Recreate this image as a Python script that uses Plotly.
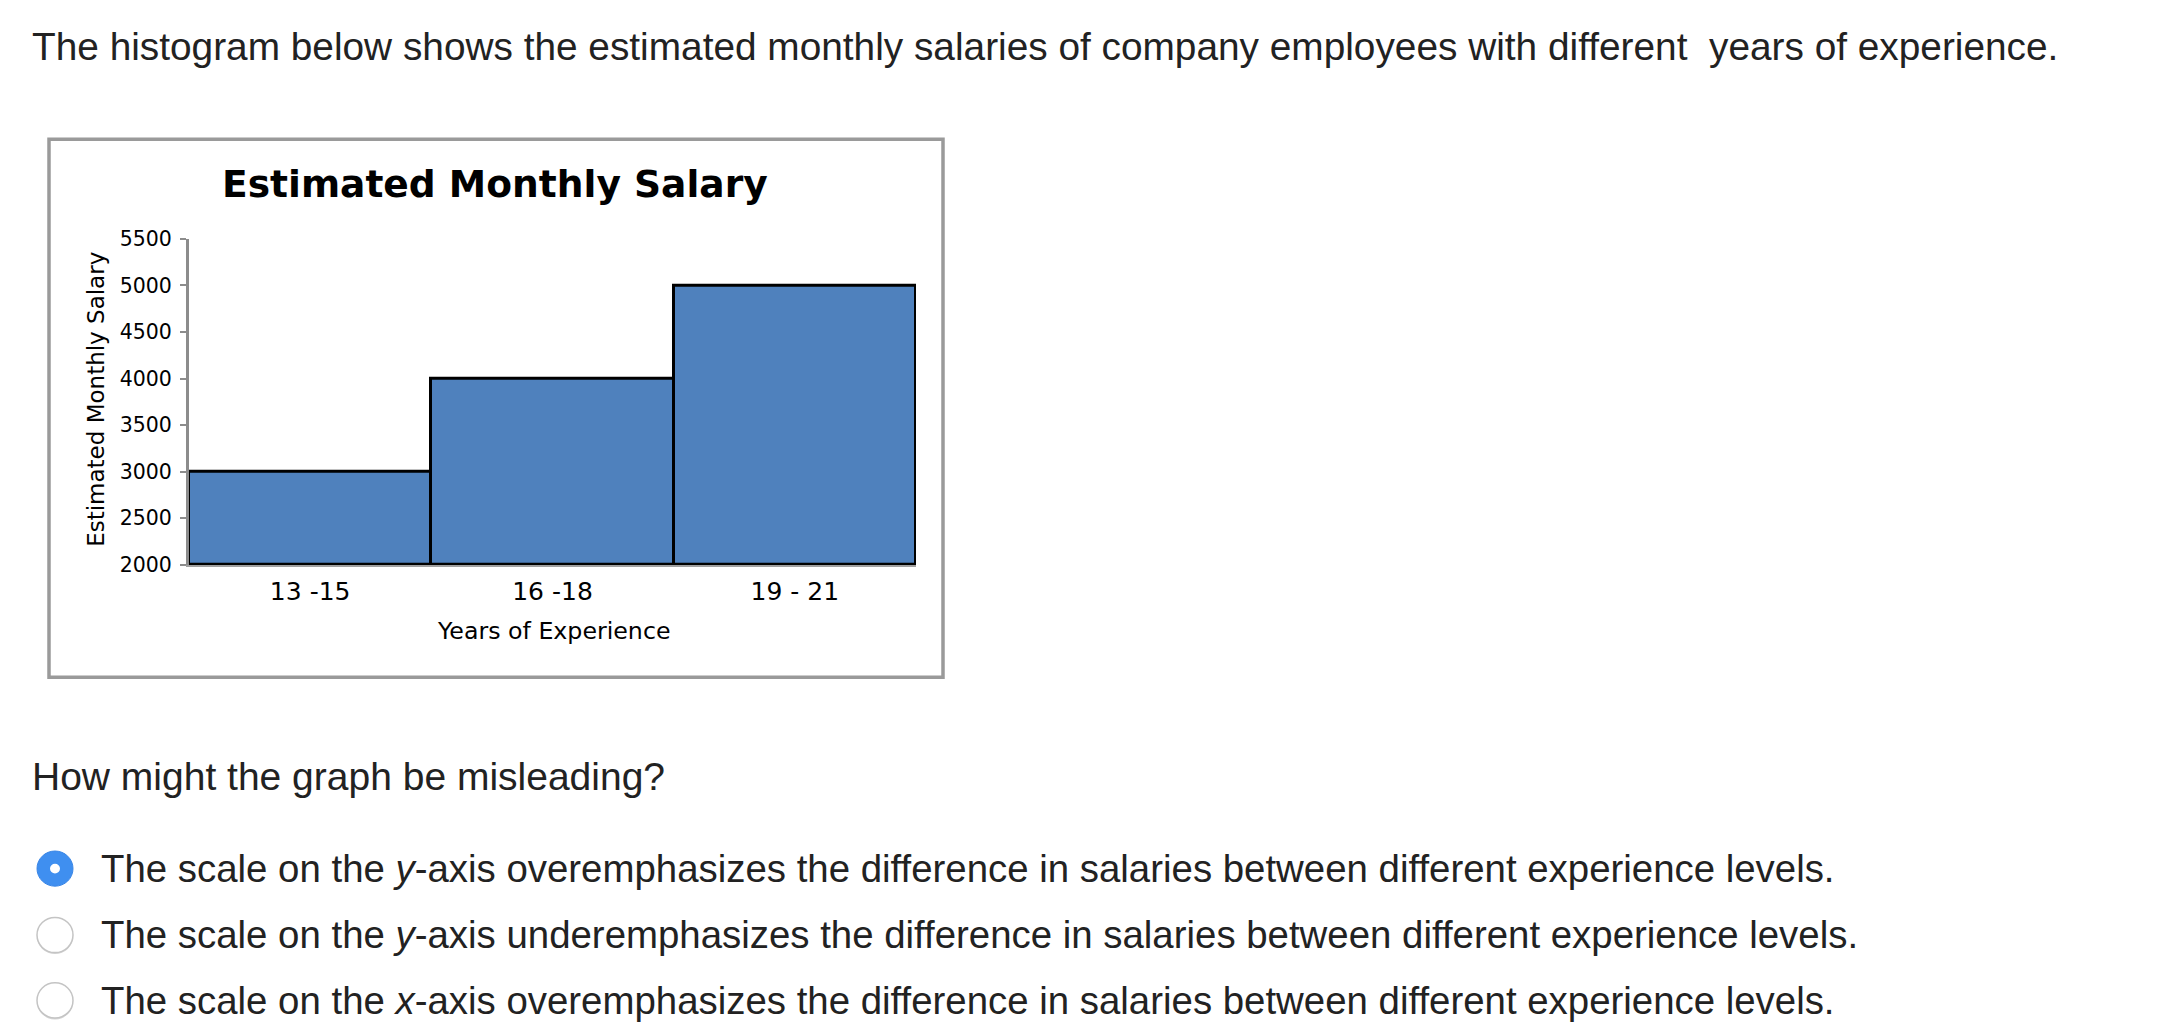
import plotly.graph_objects as go

W, H = 2158, 1022

# ---- data ----
categories = ["13 -15", "16 -18", "19 - 21"]
salaries = [3000, 4000, 5000]
y_ticks = [2000, 2500, 3000, 3500, 4000, 4500, 5000, 5500]

header_text = "The histogram below shows the estimated monthly salaries of company employees with different&nbsp; years of experience."
question_text = "How might the graph be misleading?"
options = [
    "The scale on the <i>y</i>-axis overemphasizes the difference in salaries between different experience levels.",
    "The scale on the <i>y</i>-axis underemphasizes the difference in salaries between different experience levels.",
    "The scale on the <i>x</i>-axis overemphasizes the difference in salaries between different experience levels.",
]
selected = 0


def px_x(v):
    return v / W


def px_y(v):
    return 1 - v / H


PAGE_FONT = "Liberation Sans, Arial, sans-serif"
CHART_FONT = "DejaVu Sans, sans-serif"
TEXT_COL = "#222222"

fig = go.Figure()
fig.add_trace(go.Bar(
    x=categories, y=[s - 2000 for s in salaries], base=2000,
    marker=dict(color="#4F81BD", line=dict(color="black", width=3)),
    hoverinfo="skip", showlegend=False,
))

shapes = []
# chart box
shapes.append(dict(type="rect", xref="paper", yref="paper",
                   x0=px_x(41), x1=px_x(935), y0=px_y(673), y1=px_y(122),
                   line=dict(color="#9a9a9a", width=3.5), fillcolor="white", layer="below"))

annotations = []
annotations.append(dict(text=header_text, x=px_x(22), y=px_y(27), xref="paper", yref="paper",
                        xanchor="left", yanchor="middle", showarrow=False,
                        font=dict(family=PAGE_FONT, size=38.8, color=TEXT_COL)))
annotations.append(dict(text="Estimated Monthly Salary", x=px_x(487), y=px_y(168), xref="paper", yref="paper",
                        xanchor="center", yanchor="middle", showarrow=False,
                        font=dict(family="DejaVu Sans, sans-serif", size=37.6, color="black", weight="bold")))
annotations.append(dict(text="Years of Experience", x=px_x(545), y=px_y(626), xref="paper", yref="paper",
                        xanchor="center", yanchor="middle", showarrow=False,
                        font=dict(family=CHART_FONT, size=23.7, color="black")))
annotations.append(dict(text="Estimated Monthly Salary", x=px_x(88), y=px_y(389), xref="paper", yref="paper",
                        xanchor="center", yanchor="middle", showarrow=False, textangle=-90,
                        font=dict(family=CHART_FONT, size=23, color="black")))
annotations.append(dict(text=question_text, x=px_x(22), y=px_y(775), xref="paper", yref="paper",
                        xanchor="left", yanchor="middle", showarrow=False,
                        font=dict(family=PAGE_FONT, size=39, color=TEXT_COL)))

opt_y = [869, 937, 1004]
for i, (t, yy) in enumerate(zip(options, opt_y)):
    annotations.append(dict(text=t, x=px_x(91), y=px_y(yy), xref="paper", yref="paper",
                            xanchor="left", yanchor="middle", showarrow=False,
                            font=dict(family=PAGE_FONT, size=38.4, color=TEXT_COL)))
    cx, r = 47, 18
    if i == selected:
        shapes.append(dict(type="circle", xref="paper", yref="paper",
                           x0=px_x(cx - r), x1=px_x(cx + r), y0=px_y(yy + r), y1=px_y(yy - r),
                           fillcolor="#3f8ff0", line=dict(color="#3a86e6", width=1)))
        shapes.append(dict(type="circle", xref="paper", yref="paper",
                           x0=px_x(cx - 5), x1=px_x(cx + 5), y0=px_y(yy + 5), y1=px_y(yy - 5),
                           fillcolor="white", line=dict(color="white", width=0)))
    else:
        shapes.append(dict(type="circle", xref="paper", yref="paper",
                           x0=px_x(cx - r), x1=px_x(cx + r), y0=px_y(yy + r + 1.5), y1=px_y(yy - r + 1.5),
                           fillcolor="#d4d4d4", line=dict(color="#d4d4d4", width=0)))
        shapes.append(dict(type="circle", xref="paper", yref="paper",
                           x0=px_x(cx - r), x1=px_x(cx + r), y0=px_y(yy + r), y1=px_y(yy - r),
                           fillcolor="white", line=dict(color="#c4c4c4", width=1.5)))

fig.update_layout(
    width=W, height=H,
    margin=dict(l=0, r=0, t=0, b=0),
    paper_bgcolor="white", plot_bgcolor="rgba(0,0,0,0)",
    bargap=0,
    shapes=shapes, annotations=annotations,
    xaxis=dict(domain=[px_x(181), px_x(908)], range=[-0.5, 2.5], type="category",
               showline=True, linecolor="#a0a0a0", linewidth=2, ticks="", showgrid=False,
               tickfont=dict(family=CHART_FONT, size=25, color="black"), ticklabelstandoff=3,
               fixedrange=True),
    yaxis=dict(domain=[px_y(558), px_y(224)], range=[2000, 5500], tickvals=y_ticks,
               showline=True, linecolor="#8c8c8c", linewidth=3, ticks="outside", ticklen=6,
               tickcolor="#8c8c8c", tickwidth=2, showgrid=False, zeroline=False,
               tickfont=dict(family=CHART_FONT, size=20.5, color="black"), ticklabelstandoff=4,
               fixedrange=True),
)

fig.write_html("out.html")
